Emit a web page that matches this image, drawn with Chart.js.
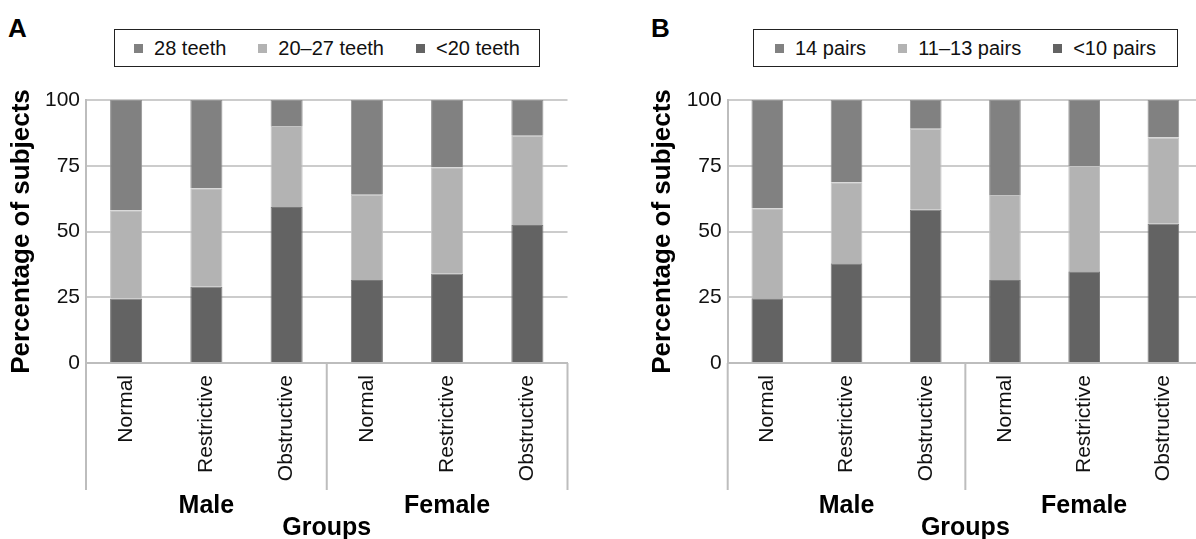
<!DOCTYPE html>
<html>
<head>
<meta charset="utf-8">
<script src="https://cdn.jsdelivr.net/npm/chart.js@4.4.1/dist/chart.umd.min.js"></script>
<style>
  body { margin: 0; width: 1196px; height: 539px; overflow: hidden; background: #fff; position: relative;
         font-family: "Liberation Sans", Arial, sans-serif; }
  canvas { position: absolute; top: 0; }
  #chartA { left: 0; }
  #chartB { left: 598px; }
  .letter { position: absolute; top: 15px; font-size: 26px; font-weight: bold; line-height: 26px; color: #000; }
  .legend { position: absolute; top: 29px; height: 38px; box-sizing: border-box; border: 1.5px solid #222;
            display: flex; align-items: center; justify-content: center; font-size: 20px; color: #111; background: #fff; }
  .legend .item { display: flex; align-items: center; margin: 0 16px; }
  .legend .sw { width: 9px; height: 9px; margin-right: 11px; }
</style>
</head>
<body>
<div class="letter" style="left:8px">A</div>
<div class="letter" style="left:651px">B</div>
<div class="legend" id="legendA" style="left:114px;width:426px"></div>
<div class="legend" id="legendB" style="left:753px;width:425px"></div>
<canvas id="chartA" width="598" height="548"></canvas>
<canvas id="chartB" width="640" height="548"></canvas>
<script>
const categories = ['Normal', 'Restrictive', 'Obstructive', 'Normal', 'Restrictive', 'Obstructive'];
const groups = ['Male', 'Female'];
const yTicks = [0, 25, 50, 75, 100];

// panel A: number of teeth
const teethLabels = ['28 teeth', '20–27 teeth', '<20 teeth'];
const teeth28 = [41.9, 33.6, 9.9, 36.0, 25.6, 13.6];
const teeth20to27 = [33.7, 37.4, 30.8, 32.4, 40.4, 33.9];
const teethUnder20 = [24.4, 29.0, 59.3, 31.6, 34.0, 52.5];

// panel B: occlusal pairs
const pairLabels = ['14 pairs', '11–13 pairs', '<10 pairs'];
const pairs14 = [41.2, 31.3, 10.9, 36.1, 25.1, 14.3];
const pairs11to13 = [34.2, 30.8, 30.8, 32.3, 40.0, 32.8];
const pairsUnder10 = [24.6, 37.9, 58.3, 31.6, 34.9, 52.9];

const colTop = '#818181';
const colMid = '#b3b3b3';
const colLow = '#636363';
const font = '"Liberation Sans", Arial, sans-serif';

function buildLegend(id, labels) {
    const cols = [colTop, colMid, colLow];
    const box = document.getElementById(id);
    labels.forEach((txt, i) => {
        const it = document.createElement('div');
        it.className = 'item';
        it.innerHTML = `<span class="sw" style="background:${cols[i]}"></span><span></span>`;
        it.lastChild.textContent = txt;
        box.appendChild(it);
    });
}

// group separators and Male / Female labels below the axis
const groupPlugin = {
    id: 'groupPlugin',
    afterDraw(chart) {
        const ctx = chart.ctx;
        const x = chart.scales.x;
        const bottom = chart.chartArea.bottom;
        const mid = (x.getPixelForValue(2) + x.getPixelForValue(3)) / 2;
        ctx.save();
        ctx.strokeStyle = '#bdbdbd';
        ctx.lineWidth = 2;
        [x.left, mid, x.right].forEach(px => {
            ctx.beginPath();
            ctx.moveTo(px, bottom);
            ctx.lineTo(px, bottom + 127);
            ctx.stroke();
        });
        ctx.fillStyle = '#000';
        ctx.font = 'bold 25px ' + font;
        ctx.textAlign = 'center';
        ctx.textBaseline = 'middle';
        ctx.fillText(groups[0], (x.left + mid) / 2, bottom + 143);
        ctx.fillText(groups[1], (mid + x.right) / 2, bottom + 143);
        ctx.restore();
    }
};

function makeChart(id, labels, top, mid, low, padLeft, padRight, yWidth) {
    const ctx = document.getElementById(id).getContext('2d');
    return new Chart(ctx, {
        type: 'bar',
        data: {
            labels: categories,
            datasets: [
                { label: labels[2], data: low, backgroundColor: colLow, borderColor: '#7a7a7a', borderWidth: 1 },
                { label: labels[1], data: mid, backgroundColor: colMid, borderColor: '#c4c4c4', borderWidth: 1 },
                { label: labels[0], data: top, backgroundColor: colTop, borderColor: '#949494', borderWidth: 1 }
            ]
        },
        options: {
            responsive: false,
            animation: false,
            datasets: { bar: { barPercentage: 0.4, categoryPercentage: 1 } },
            layout: { padding: { left: padLeft, right: padRight, top: 100, bottom: 0 } },
            plugins: { legend: { display: false }, tooltip: { enabled: false } },
            scales: {
                x: {
                    stacked: true,
                    grid: { display: false },
                    border: { display: true, color: '#bdbdbd', width: 2 },
                    ticks: {
                        autoSkip: false, minRotation: 90, maxRotation: 90, padding: 4,
                        color: '#111', font: { family: font, size: 21 }
                    },
                    title: {
                        display: true, text: 'Groups', color: '#000',
                        font: { family: font, size: 25, weight: 'bold' },
                        padding: { top: 0, bottom: 5 }
                    },
                    afterFit(scale) { scale.height = 185; }
                },
                y: {
                    stacked: true,
                    min: 0, max: 100,
                    afterBuildTicks(scale) { scale.ticks = yTicks.map(v => ({ value: v })); },
                    grid: { color: '#cccccc', lineWidth: 2, drawTicks: false },
                    border: { display: true, color: '#bdbdbd', width: 2 },
                    ticks: { padding: 6, color: '#111', font: { family: font, size: 21 } },
                    title: {
                        display: true, text: 'Percentage of subjects', color: '#000',
                        font: { family: font, size: 26, weight: 'bold' },
                        padding: { top: 6, bottom: 0 }
                    },
                    afterFit(scale) { scale.width = yWidth; }
                }
            }
        },
        plugins: [groupPlugin]
    });
}

buildLegend('legendA', teethLabels);
buildLegend('legendB', pairLabels);
makeChart('chartA', teethLabels, teeth28, teeth20to27, teethUnder20, 0, 30.5, 86);
makeChart('chartB', pairLabels, pairs14, pairs11to13, pairsUnder10, 43, 35, 86.7);
</script>
</body>
</html>
